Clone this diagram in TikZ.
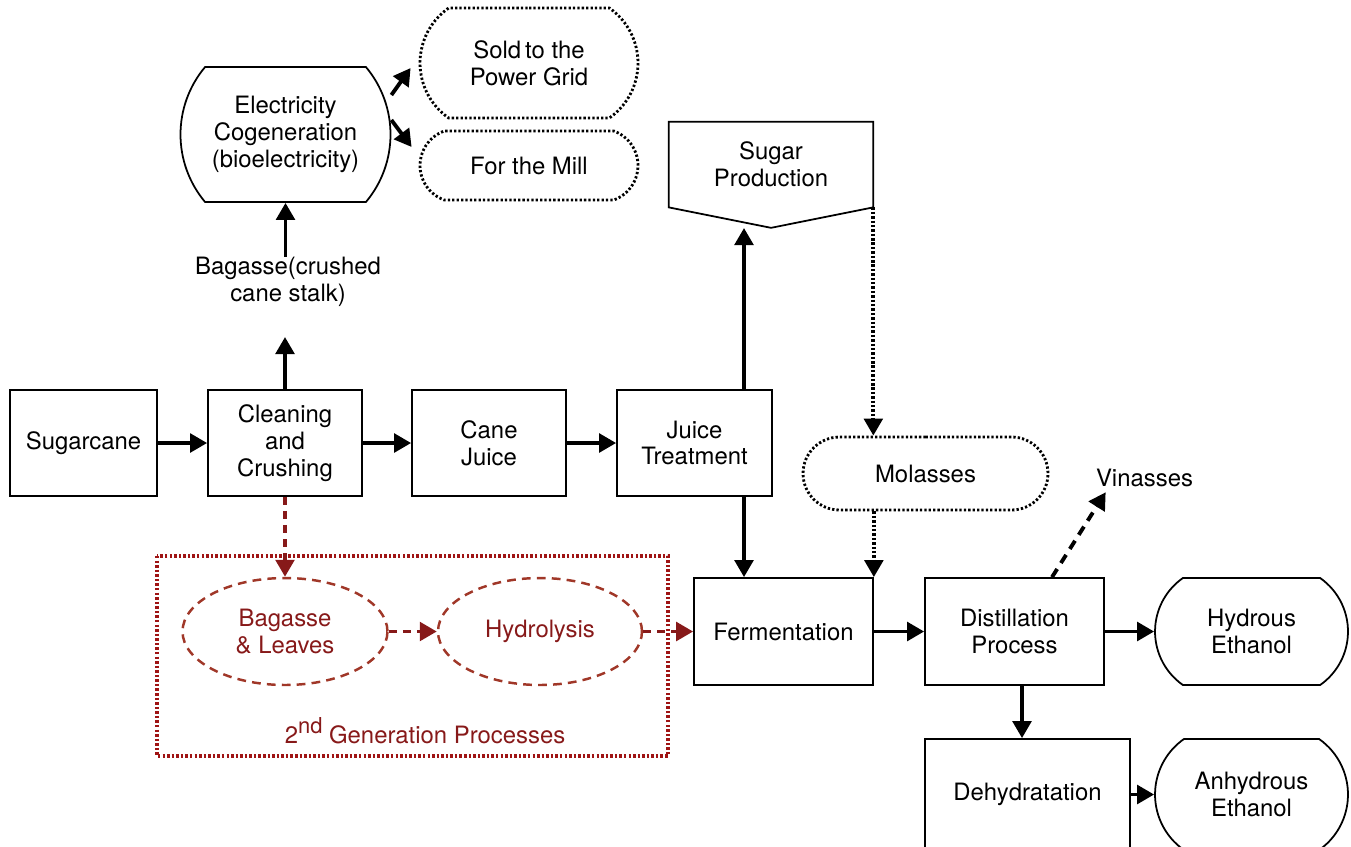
\documentclass[tikz,border=0pt]{standalone}
\usepackage{fontspec}
\setmainfont{TeX Gyre Heros}
\usepackage{xcolor}
\usepackage{tikz}
\usetikzlibrary{arrows.meta,positioning,shapes.geometric,shapes.misc,calc}
\definecolor{secred}{RGB}{135,25,25}
\definecolor{secline}{RGB}{160,55,40}
\begin{document}
\begin{tikzpicture}[
  x=0.02cm, y=-0.02cm,
  font=\fontsize{13.6}{15.3}\selectfont,
  box/.style={draw, line width=1pt, inner sep=0pt, minimum width=3.08cm, minimum height=2.12cm, align=center},
  pill/.style={rounded rectangle, draw, line width=1pt, inner sep=0pt, align=center},
  dotpill/.style={rounded rectangle, draw, line width=1.6pt, dash pattern=on 1.3pt off 1.2pt, inner sep=0pt, align=center},
  oval/.style={ellipse, draw=secline, line width=1.4pt, dash pattern=on 5pt off 3.5pt, inner sep=0pt, text=secred, align=center, minimum width=4.1cm, minimum height=2.14cm},
  arr/.style={-{Triangle[length=0.34cm, width=0.37cm]}, line width=2.2pt},
  dotarr/.style={arr, dash pattern=on 1.4pt off 1.1pt},
  dasharr/.style={arr, dash pattern=on 5.5pt off 4pt},
  redarr/.style={arr, color=secred, dash pattern=on 4.5pt off 3.5pt}
]
\useasboundingbox (0,0) rectangle (1351,846);
\node[box, minimum width=2.94cm] (sugarcane) at (83.5,443) {Sugarcane};
\node[box] (clean) at (285,443) {Cleaning\\and\\Crushing};
\node[box] (juice) at (489,443) {Cane\\Juice};
\node[box, minimum width=3.1cm] (treat) at (694.5,443) {Juice\\Treatment};
\node[inner sep=0pt, align=center] (bagasse) at (288,282) {Bagasse(crushed\\cane stalk)};
\node[pill, rounded rectangle arc length=80, minimum width=4.1cm, minimum height=2.7cm] (elec) at (285.5,134.5) {Electricity\\Cogeneration\\(bioelectricity)};
\node[dotpill, rounded rectangle arc length=110, minimum width=4.36cm, minimum height=2.2cm] (grid) at (529,63) {Sold\,to the\\Power Grid};
\node[dotpill, rounded rectangle arc length=140, minimum width=4.36cm, minimum height=1.38cm] (mill) at (529,165.5) {For the Mill};
\node[inner sep=0pt, minimum width=4.08cm, minimum height=1.7cm, align=center] (sugar) at (771,164.5) {Sugar\\Production};
\draw[line width=1pt] (sugar.north west) -- (sugar.north east) -- (sugar.south east) -- ([yshift=-0.41cm]sugar.south) -- (sugar.south west) -- cycle;
\node[dotpill, minimum width=4.9cm, minimum height=1.46cm] (molasses) at (925.5,473.5) {Molasses};
\node[box, minimum width=3.58cm, minimum height=2.14cm] (ferm) at (783.5,631.5) {Fermentation};
\node[box, minimum width=3.58cm, minimum height=2.14cm] (distil) at (1014.5,631.5) {Distillation\\Process};
\node[pill, rounded rectangle arc length=110, minimum width=3.86cm, minimum height=2.14cm] (hydrous) at (1251.5,631.5) {Hydrous\\Ethanol};
\node[box, minimum width=4.1cm, minimum height=2.22cm] (dehyd) at (1027.5,794.5) {Dehydratation};
\node[pill, rounded rectangle arc length=110, minimum width=3.86cm, minimum height=2.22cm] (anhydrous) at (1251.5,794.5) {Anhydrous\\Ethanol};
\node[inner sep=0pt] (vinasses) at (1144.5,478) {Vinasses};
\node[oval] (leaves) at (285,631.5) {Bagasse\\\&~Leaves};
\node[oval, minimum width=4.08cm] (hydro) at (540,631.5) {Hydrolysis};
\draw[secred!80!red, line width=1.8pt, dash pattern=on 1.4pt off 1.2pt] (157,556) rectangle (668,756);
\node[text=secred] (gen2) at (425,731) {2\raisebox{0.2cm}{\fontsize{12.5}{12.5}\selectfont nd} Generation Processes};
\coordinate (bagin) at (285,337);
\coordinate (sugartip) at (744,228);
\draw[arr] (sugarcane) -- (clean);
\draw[arr] (clean) -- (juice);
\draw[arr] (juice) -- (treat);
\draw[arr] (clean.north) -- (bagin);
\draw[arr] (elec.south |- bagasse.north) -- (elec.south);
\draw[arr] ([yshift=0.79cm]elec.east) -- ([xshift=-0.16cm,yshift=-0.1cm]grid.west);
\draw[arr] ([yshift=0.29cm]elec.east) -- ([xshift=-0.14cm,yshift=0.37cm]mill.west);
\draw[arr] (treat.north -| sugartip) -- (sugartip);
\draw[arr] (treat.south -| sugartip) -- (ferm.north -| sugartip);
\draw[dotarr] (sugar.south east) -- (molasses.north -| sugar.south east);
\draw[dotarr] (molasses.south -| ferm.north east) -- (ferm.north east);
\draw[arr] (ferm) -- (distil);
\draw[arr] (distil) -- (hydrous);
\draw[arr] ([xshift=0.15cm]distil.south) -- ([xshift=0.15cm]distil.south |- dehyd.north);
\draw[arr] (dehyd.east |- anhydrous.west) -- (anhydrous.west);
\draw[dasharr] ([xshift=0.75cm]distil.north) -- ([xshift=0.2cm,yshift=-0.1cm]vinasses.south west);
\draw[redarr] (clean.south) -- (leaves.north);
\draw[redarr] (leaves) -- (hydro);
\draw[redarr] (hydro) -- (ferm);
\end{tikzpicture}
\end{document}
